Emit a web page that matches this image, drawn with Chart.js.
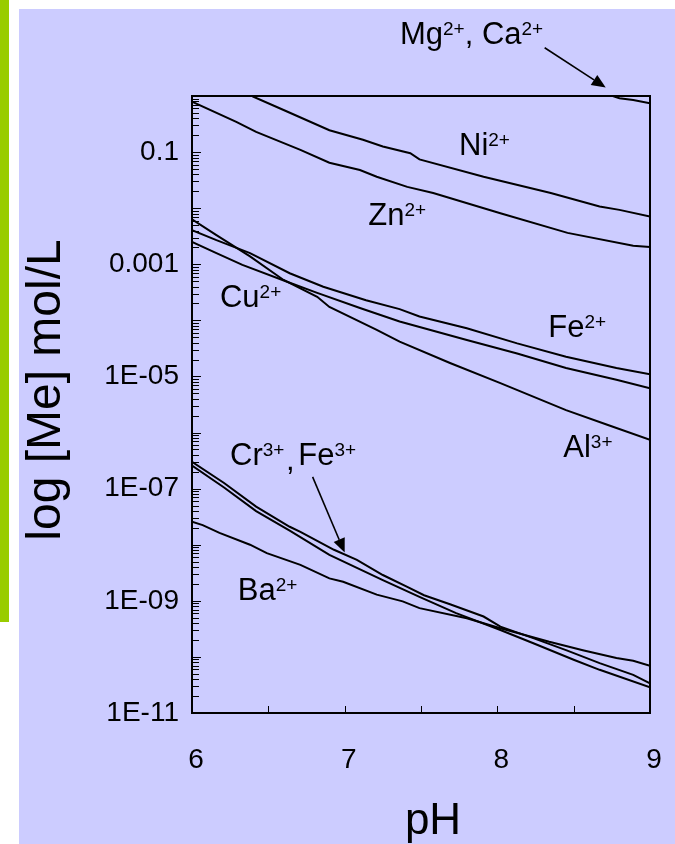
<!DOCTYPE html>
<html>
<head>
<meta charset="utf-8">
<script src="https://cdn.jsdelivr.net/npm/chart.js@4.4.0/dist/chart.umd.min.js"></script>
<style>
  html, body { margin: 0; padding: 0; background: #fff; }
  canvas { display: block; }
</style>
</head>
<body>
<canvas id="chart" width="675" height="844"></canvas>
<script>
// curves: pH and log10 of [Me] in mol/L
const mgCaPH  = [8.70, 8.80, 8.89, 9.00];
const mgCaLog = [0.05, -0.04, -0.07, -0.13];

const niPH  = [6.38, 6.40, 6.60, 6.90, 7.12, 7.25, 7.43, 7.49, 7.91, 8.35, 8.67, 8.80, 9.00];
const niLog = [0.03, -0.01, -0.25, -0.61, -0.78, -0.90, -1.02, -1.13, -1.44, -1.73, -1.97, -2.03, -2.15];

const znPH  = [6.00, 6.29, 6.42, 6.71, 6.90, 7.10, 7.21, 7.41, 7.58, 8.02, 8.46, 8.89, 9.00];
const znLog = [-0.10, -0.46, -0.64, -0.96, -1.19, -1.32, -1.44, -1.62, -1.73, -2.09, -2.44, -2.67, -2.69];

const fe2PH  = [6.00, 6.16, 6.38, 6.64, 6.86, 7.14, 7.36, 7.49, 7.80, 8.13, 8.45, 8.78, 9.00];
const fe2Log = [-2.39, -2.57, -2.80, -3.16, -3.40, -3.64, -3.80, -3.93, -4.14, -4.41, -4.65, -4.85, -4.96];

const cuPH  = [6.00, 6.16, 6.33, 6.64, 6.82, 7.10, 7.36, 7.80, 8.13, 8.45, 8.78, 9.00];
const cuLog = [-2.60, -2.80, -3.01, -3.33, -3.51, -3.78, -4.02, -4.35, -4.59, -4.85, -5.06, -5.21];

const alPH  = [6.00, 6.16, 6.38, 6.60, 6.82, 6.90, 7.21, 7.36, 7.69, 8.02, 8.45, 8.72, 9.00];
const alLog = [-2.20, -2.48, -2.86, -3.28, -3.58, -3.76, -4.17, -4.38, -4.76, -5.12, -5.60, -5.86, -6.13];

const crPH  = [6.00, 6.21, 6.42, 6.64, 6.71, 6.93, 7.08, 7.25, 7.41, 7.52, 7.69, 7.91, 8.02, 8.24, 8.45, 8.67, 8.89, 9.00];
const crLog = [-6.52, -6.90, -7.32, -7.68, -7.77, -8.09, -8.27, -8.54, -8.75, -8.90, -9.06, -9.28, -9.46, -9.67, -9.88, -10.11, -10.32, -10.47];

const fe3PH  = [6.00, 6.21, 6.42, 6.64, 6.90, 7.25, 7.49, 7.73, 8.02, 8.24, 8.50, 8.67, 9.00];
const fe3Log = [-6.59, -6.98, -7.40, -7.75, -8.18, -8.63, -8.93, -9.22, -9.52, -9.76, -10.05, -10.23, -10.54];

const baPH  = [6.00, 6.07, 6.18, 6.38, 6.49, 6.71, 6.90, 6.99, 7.21, 7.38, 7.49, 7.80, 8.02, 8.34, 8.56, 8.78, 8.89, 9.00];
const baLog = [-7.59, -7.65, -7.79, -8.00, -8.15, -8.36, -8.60, -8.66, -8.89, -9.01, -9.13, -9.31, -9.49, -9.73, -9.88, -10.02, -10.07, -10.16];

// axis ticks
const xTickValues = [6, 7, 8, 9];
const xMinorTicks = [6.5, 7, 7.5, 8, 8.5];
const yTickValues = [1e-1, 1e-3, 1e-5, 1e-7, 1e-9, 1e-11];
const yTickLabels = ['0.1', '0.001', '1E-05', '1E-07', '1E-09', '1E-11'];

// text annotations (pH, log10 position), segments: [text, superscript?]
const labels = [
  { x: 7.362, y: 0.93, parts: [['Mg', 0], ['2+', 1], [', Ca', 0], ['2+', 1]] },
  { x: 7.749, y: -1.05, parts: [['Ni', 0], ['2+', 1]] },
  { x: 7.155, y: -2.30, parts: [['Zn', 0], ['2+', 1]] },
  { x: 6.183, y: -3.76, parts: [['Cu', 0], ['2+', 1]] },
  { x: 8.334, y: -4.29, parts: [['Fe', 0], ['2+', 1]] },
  { x: 8.432, y: -6.43, parts: [['Al', 0], ['3+', 1]] },
  { x: 6.249, y: -6.58, parts: [['Cr', 0], ['3+', 1]] },
  { x: 6.616, y: -6.66, parts: [[',', 0]] },
  { x: 6.696, y: -6.58, parts: [['Fe', 0], ['3+', 1]] },
  { x: 6.30, y: -8.98, parts: [['Ba', 0], ['2+', 1]] }
];
const arrows = [
  { from: [8.31, 0.86], to: [8.71, 0.15] },
  { from: [6.79, -6.79], to: [7.00, -8.14] }
];

function series(ph, lg) {
  return ph.map((x, i) => ({ x: x, y: Math.pow(10, lg[i]) }));
}

const FONT = '"Liberation Sans", Arial, sans-serif';

const decor = {
  id: 'decor',
  beforeDraw(chart) {
    const ctx = chart.ctx;
    ctx.save();
    ctx.fillStyle = '#ffffff';
    ctx.fillRect(0, 0, chart.width, chart.height);
    ctx.fillStyle = '#99cc00';
    ctx.fillRect(0, 0, 9, 622);
    ctx.fillStyle = '#ccccff';
    ctx.fillRect(19, 9, chart.width - 19, chart.height - 9);
    ctx.restore();
  },
  afterDraw(chart) {
    const ctx = chart.ctx;
    const a = chart.chartArea;
    const xs = chart.scales.x, ys = chart.scales.y;
    ctx.save();
    ctx.strokeStyle = '#000';
    ctx.fillStyle = '#000';

    // inward ticks on the y axis
    ctx.lineWidth = 1;
    ctx.beginPath();
    for (let e = -11; e <= 0; e++) {
      for (let k = 1; k <= 9; k++) {
        const v = k * Math.pow(10, e);
        if (v > 1.0001) break;
        const py = Math.round(ys.getPixelForValue(v)) + 0.5;
        const len = k === 1 ? 9 : 7;
        ctx.moveTo(a.left, py);
        ctx.lineTo(a.left + len, py);
      }
    }
    // inward ticks on the x axis
    xMinorTicks.forEach(v => {
      const px = Math.round(xs.getPixelForValue(v)) + 0.5;
      ctx.moveTo(px, a.bottom);
      ctx.lineTo(px, a.bottom - 7);
    });
    ctx.stroke();

    // frame
    ctx.lineWidth = 2;
    ctx.strokeRect(a.left, a.top, a.right - a.left, a.bottom - a.top);

    // labels
    labels.forEach(l => {
      let px = xs.getPixelForValue(l.x);
      const py = ys.getPixelForValue(Math.pow(10, l.y));
      l.parts.forEach(p => {
        ctx.font = (p[1] ? '19px ' : '31px ') + FONT;
        ctx.fillText(p[0], px, p[1] ? py - 9 : py);
        px += ctx.measureText(p[0]).width;
      });
    });

    // arrows
    arrows.forEach(ar => {
      const x0 = xs.getPixelForValue(ar.from[0]), y0 = ys.getPixelForValue(Math.pow(10, ar.from[1]));
      const x1 = xs.getPixelForValue(ar.to[0]), y1 = ys.getPixelForValue(Math.pow(10, ar.to[1]));
      const ang = Math.atan2(y1 - y0, x1 - x0);
      const hl = 14, hw = 6;
      const bx = x1 - hl * Math.cos(ang), by = y1 - hl * Math.sin(ang);
      ctx.lineWidth = 1.6;
      ctx.beginPath();
      ctx.moveTo(x0, y0);
      ctx.lineTo(bx, by);
      ctx.stroke();
      ctx.beginPath();
      ctx.moveTo(x1, y1);
      ctx.lineTo(bx + hw * Math.sin(ang), by - hw * Math.cos(ang));
      ctx.lineTo(bx - hw * Math.sin(ang), by + hw * Math.cos(ang));
      ctx.closePath();
      ctx.fill();
    });

    // axis titles
    ctx.font = '44px ' + FONT;
    ctx.textAlign = 'center';
    ctx.fillText('pH', 433, 834);
    ctx.translate(60, 390);
    ctx.rotate(-Math.PI / 2);
    ctx.font = '48px ' + FONT;
    ctx.fillText('log [Me] mol/L', 0, 0);
    ctx.restore();
  }
};

const line = (ph, lg) => ({
  data: series(ph, lg),
  borderColor: '#000',
  borderWidth: 2,
  pointRadius: 0,
  tension: 0,
  fill: false
});

new Chart(document.getElementById('chart').getContext('2d'), {
  type: 'line',
  data: {
    datasets: [
      line(mgCaPH, mgCaLog),
      line(niPH, niLog),
      line(znPH, znLog),
      line(fe2PH, fe2Log),
      line(cuPH, cuLog),
      line(alPH, alLog),
      line(crPH, crLog),
      line(fe3PH, fe3Log),
      line(baPH, baLog)
    ]
  },
  options: {
    responsive: false,
    animation: false,
    layout: { padding: { top: 96, right: 25, left: 0, bottom: 0 } },
    plugins: { legend: { display: false }, tooltip: { enabled: false } },
    scales: {
      x: {
        type: 'linear',
        min: 6,
        max: 9,
        afterBuildTicks: s => { s.ticks = xTickValues.map(v => ({ value: v })); },
        afterFit: s => { s.height = 131; s.paddingLeft = 0; s.paddingRight = 0; },
        ticks: { color: '#000', padding: 30, labelOffset: 4, font: { size: 28, family: FONT } },
        grid: { drawOnChartArea: false, drawTicks: false },
        border: { display: false }
      },
      y: {
        type: 'logarithmic',
        min: 1e-11,
        max: 1,
        afterBuildTicks: s => { s.ticks = yTickValues.map(v => ({ value: v })); },
        afterFit: s => { s.width = 192; s.paddingTop = 0; s.paddingBottom = 0; },
        ticks: {
          color: '#000',
          padding: 13,
          autoSkip: false,
          font: { size: 28, family: FONT },
          callback: v => {
            const i = yTickValues.findIndex(t => Math.abs(Math.log10(t) - Math.log10(v)) < 0.01);
            return i >= 0 ? yTickLabels[i] : '';
          }
        },
        grid: { drawOnChartArea: false, drawTicks: false },
        border: { display: false }
      }
    }
  },
  plugins: [decor]
});
</script>
</body>
</html>
